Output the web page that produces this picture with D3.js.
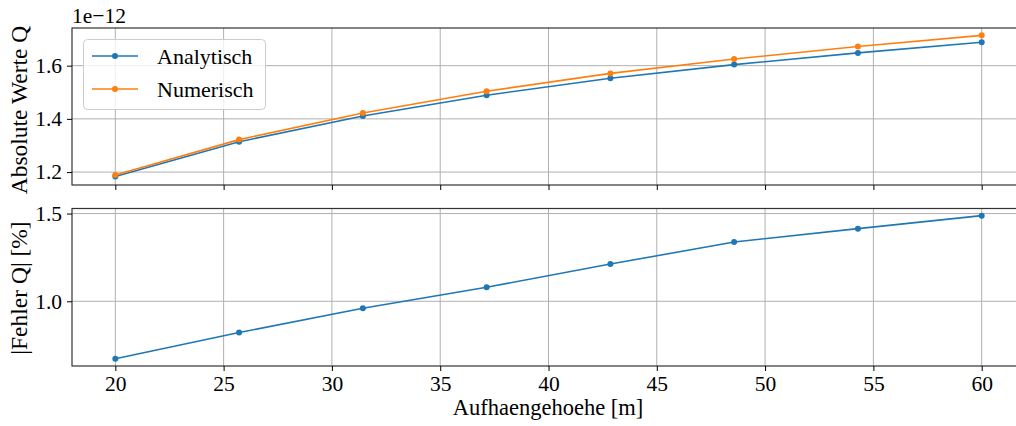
<!DOCTYPE html>
<html><head><meta charset="utf-8">
<script src="https://cdn.jsdelivr.net/npm/d3@7"></script>
</head><body style="margin:0">
<svg id="c" width="1016" height="426"></svg>
<script>
const hoehe = [20, 25.714, 31.429, 37.143, 42.857, 48.571, 54.286, 60];
const analytisch = [1.183, 1.314, 1.411, 1.489, 1.553, 1.604, 1.648, 1.688];
const numerisch = [1.189, 1.322, 1.422, 1.504, 1.571, 1.625, 1.672, 1.714];
const fehler = [0.672, 0.822, 0.960, 1.080, 1.212, 1.338, 1.414, 1.488];
const xTicks = [20, 25, 30, 35, 40, 45, 50, 55, 60];
const yTicksTop = [1.2, 1.4, 1.6];
const yTicksBottom = [1.0, 1.5];
const seriesNames = ["Analytisch", "Numerisch"];
const colors = ["#1f77b4", "#ff7f0e"];

const svg = d3.select("#c");
const L = 72, R = 1025;
const x = d3.scaleLinear().domain([18, 62]).range([L, R]);
const yTop = d3.scaleLinear().domain([1.1514, 1.7416]).range([185, 28]);
const yBot = d3.scaleLinear().domain([0.6312, 1.5288]).range([366, 208.5]);

function setFont(sel, fs) {
  return sel.style("font-family", '"Liberation Serif"').attr("font-size", fs).attr("fill", "#000");
}

function panel(y, yTicks, fmt, showXLabels) {
  const g = svg.append("g");
  const [y0, y1] = y.range();
  g.selectAll(".gx").data(xTicks).enter().append("line")
    .attr("x1", d => x(d)).attr("x2", d => x(d)).attr("y1", y1).attr("y2", y0)
    .attr("stroke", "#b0b0b0").attr("stroke-width", 1);
  g.selectAll(".gy").data(yTicks).enter().append("line")
    .attr("x1", L).attr("x2", R).attr("y1", d => y(d)).attr("y2", d => y(d))
    .attr("stroke", "#b0b0b0").attr("stroke-width", 1);
  g.append("rect").attr("x", L).attr("y", y1).attr("width", R - L).attr("height", y0 - y1)
    .attr("fill", "none").attr("stroke", "#333").attr("stroke-width", 1.2);
  const ax = g.append("g").attr("transform", `translate(0,${y0})`)
    .call(d3.axisBottom(x).tickValues(xTicks).tickSize(5).tickPadding(5)
      .tickFormat(showXLabels ? d3.format("d") : ""));
  const ay = g.append("g").attr("transform", `translate(${L},0)`)
    .call(d3.axisLeft(y).tickValues(yTicks).tickSize(5).tickPadding(5).tickFormat(fmt));
  [ax, ay].forEach(a => {
    a.attr("font-family", null).attr("font-size", null);
    a.select(".domain").remove();
    a.selectAll("line").attr("stroke", "#000").attr("stroke-width", 1);
    setFont(a.selectAll("text"), 21.5);
  });
  return g;
}

function series(g, y, vals, color) {
  const line = d3.line().x((d, i) => x(hoehe[i])).y(d => y(d));
  g.append("path").datum(vals).attr("d", line).attr("fill", "none")
    .attr("stroke", color).attr("stroke-width", 1.6);
  g.selectAll(null).data(vals).enter().append("circle")
    .attr("cx", (d, i) => x(hoehe[i])).attr("cy", d => y(d)).attr("r", 3).attr("fill", color);
}

const gTop = panel(yTop, yTicksTop, d3.format(".1f"), false);
series(gTop, yTop, analytisch, colors[0]);
series(gTop, yTop, numerisch, colors[1]);
const gBot = panel(yBot, yTicksBottom, d3.format(".1f"), true);
series(gBot, yBot, fehler, colors[0]);

setFont(svg.append("text").attr("x", 72).attr("y", 23).text("1e\u221212"), 21.5);
setFont(svg.append("text").attr("transform", `translate(27,110) rotate(-90)`)
  .attr("text-anchor", "middle").text("Absolute Werte Q"), 23.5);
setFont(svg.append("text").attr("transform", `translate(27,288) rotate(-90)`)
  .attr("text-anchor", "middle").text("|Fehler Q| [%]"), 23.5);
setFont(svg.append("text").attr("x", 548).attr("y", 415).attr("text-anchor", "middle")
  .text("Aufhaengehoehe [m]"), 22.5);

const lg = svg.append("g");
lg.append("rect").attr("x", 83.5).attr("y", 39.5).attr("width", 182).attr("height", 70)
  .attr("rx", 4).attr("fill", "#fff").attr("fill-opacity", 0.8)
  .attr("stroke", "#cccccc").attr("stroke-width", 1);
seriesNames.forEach((n, i) => {
  const yy = 56 + i * 33;
  lg.append("line").attr("x1", 92).attr("x2", 138).attr("y1", yy).attr("y2", yy)
    .attr("stroke", colors[i]).attr("stroke-width", 1.6);
  lg.append("circle").attr("cx", 115).attr("cy", yy).attr("r", 3).attr("fill", colors[i]);
  setFont(lg.append("text").attr("x", 157).attr("y", yy + 8).text(n), 22);
});
</script>
</body></html>
